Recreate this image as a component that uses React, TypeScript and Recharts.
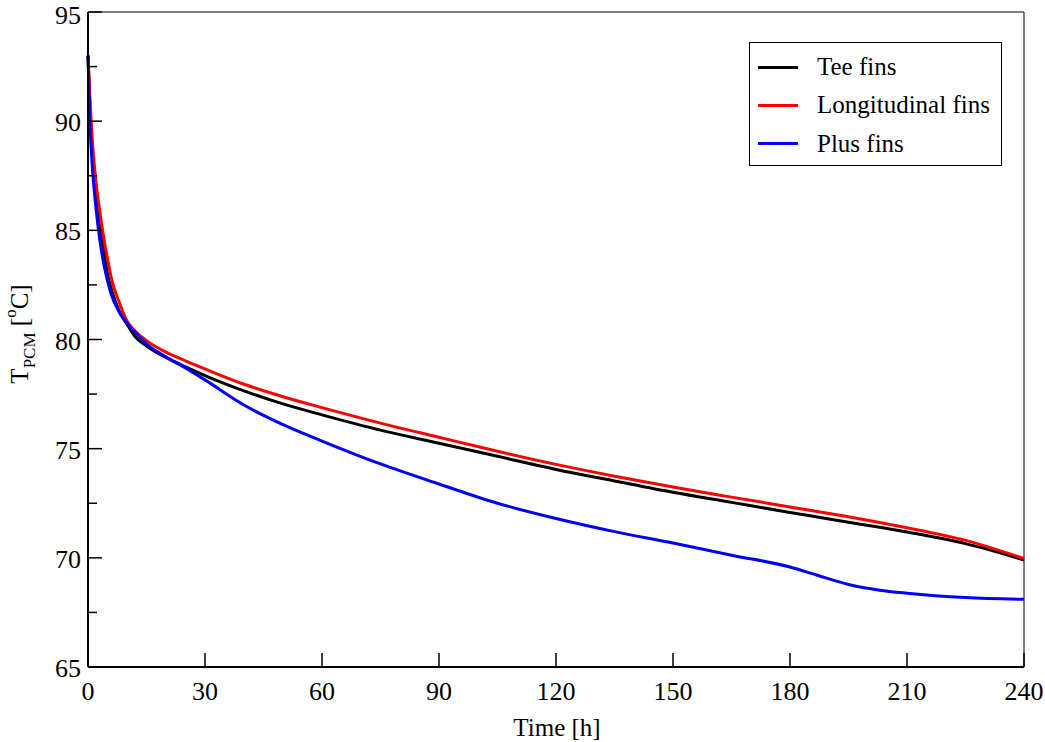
import { LineChart, Line, XAxis, YAxis, ReferenceLine } from "recharts";

const time = [0, 0.5, 1, 2, 3, 4, 5, 6, 8, 10, 12, 15, 20, 25, 30, 40, 50, 60, 75, 90, 105, 120, 135, 150, 165, 180, 187, 195, 203, 210, 225, 240];
const teeFins = [93.0, 90.6, 88.9, 86.8, 85.15, 84.1, 83.0, 82.3, 81.3, 80.7, 80.15, 79.7, 79.18, 78.75, 78.35, 77.65, 77.05, 76.55, 75.85, 75.25, 74.65, 74.05, 73.52, 73.0, 72.54, 72.08, 71.87, 71.63, 71.4, 71.18, 70.65, 69.9];
const longitudinalFins = [93.0, 91.0, 89.4, 87.3, 85.9, 84.7, 83.7, 82.8, 81.7, 80.85, 80.4, 79.95, 79.42, 79.02, 78.65, 77.95, 77.38, 76.88, 76.17, 75.52, 74.88, 74.28, 73.74, 73.24, 72.78, 72.33, 72.12, 71.88, 71.62, 71.38, 70.8, 69.97];
const plusFins = [93.0, 89.9, 88.2, 86.1, 84.6, 83.5, 82.7, 82.05, 81.25, 80.75, 80.35, 79.8, 79.2, 78.7, 78.15, 77.0, 76.1, 75.35, 74.3, 73.38, 72.5, 71.8, 71.2, 70.68, 70.12, 69.58, 69.2, 68.78, 68.52, 68.38, 68.18, 68.1];

const xTicks = [0, 30, 60, 90, 120, 150, 180, 210, 240];
const yTicks = [65, 67.5, 70, 72.5, 75, 77.5, 80, 82.5, 85, 87.5, 90, 92.5, 95];

const series = [
  { key: "tee", name: "Tee fins", color: "#000000" },
  { key: "longitudinal", name: "Longitudinal fins", color: "#ff0000" },
  { key: "plus", name: "Plus fins", color: "#0000ff" },
];

const data = time.map((t, i) => ({
  time: t,
  tee: teeFins[i],
  longitudinal: longitudinalFins[i],
  plus: plusFins[i],
}));

const FONT = '"Liberation Serif", "Times New Roman", serif';

const YTick = ({ x, y, payload }: any) => {
  const major = payload.value % 5 === 0;
  // keep the top label's box inside the page
  const baseline = Math.max(y + 10, 24);
  return (
    <g>
      <line x1={x} x2={x + (major ? 14 : 9)} y1={y} y2={y} stroke="#000" strokeWidth={1.5} />
      {major && (
        <text x={x - 7} y={baseline} textAnchor="end" fontSize={26} fontFamily={FONT} fill="#000">
          {payload.value}
        </text>
      )}
    </g>
  );
};

const XTick = ({ x, y, payload }: any) => (
  <g>
    <line x1={x} x2={x} y1={y} y2={y - 14} stroke="#000" strokeWidth={1.5} />
    <text x={x} y={y + 33} textAnchor="middle" fontSize={26} fontFamily={FONT} fill="#000">
      {payload.value}
    </text>
  </g>
);

function ChartLegend() {
  return (
    <div
      style={{
        position: "absolute",
        left: 749,
        top: 42,
        width: 251,
        height: 122,
        border: "1px solid #000",
        background: "#fff",
        fontFamily: FONT,
        fontSize: 25,
      }}
    >
      {series.map((s, i) => (
        <div
          key={s.key}
          style={{ position: "absolute", left: 8, top: 10 + i * 38.3, height: 28, display: "flex", alignItems: "center" }}
        >
          <div style={{ width: 40, height: 3, background: s.color }} />
          <span style={{ marginLeft: 19, whiteSpace: "nowrap", color: "#000" }}>{s.name}</span>
        </div>
      ))}
    </div>
  );
}

export default function App() {
  return (
    <div style={{ position: "absolute", left: 0, top: 0, width: 1045, height: 742, background: "#fff" }}>
      <LineChart width={1045} height={742} data={data} margin={{ top: 12, right: 21, bottom: 0, left: 0 }}>
        <XAxis
          dataKey="time"
          type="number"
          domain={[0, 240]}
          ticks={xTicks}
          interval={0}
          tickLine={false}
          tickSize={0}
          tickMargin={0}
          axisLine={{ stroke: "#000", strokeWidth: 2 }}
          tick={<XTick />}
          height={75}
        />
        <YAxis
          type="number"
          domain={[65, 95]}
          ticks={yTicks}
          interval={0}
          width={88}
          tickLine={false}
          tickSize={0}
          tickMargin={0}
          axisLine={{ stroke: "#000", strokeWidth: 2 }}
          tick={<YTick />}
        />
        <ReferenceLine y={95} stroke="#000" strokeWidth={1} />
        <ReferenceLine x={240} stroke="#000" strokeWidth={1} />
        {series.map((s) => (
          <Line
            key={s.key}
            type="monotone"
            dataKey={s.key}
            name={s.name}
            stroke={s.color}
            strokeWidth={3}
            dot={false}
            isAnimationActive={false}
          />
        ))}
        <text x={557} y={736} textAnchor="middle" fontSize={25} fontFamily={FONT} fill="#000">
          Time [h]
        </text>
        <text transform="translate(28, 334) rotate(-90)" textAnchor="middle" fontSize={25} fontFamily={FONT} fill="#000">
          T
          <tspan fontSize={17} dy={7}>PCM</tspan>
          <tspan dy={-7}> [</tspan>
          <tspan fontSize={17} dy={-12}>o</tspan>
          <tspan dy={12}>C]</tspan>
        </text>
      </LineChart>
      <ChartLegend />
    </div>
  );
}
